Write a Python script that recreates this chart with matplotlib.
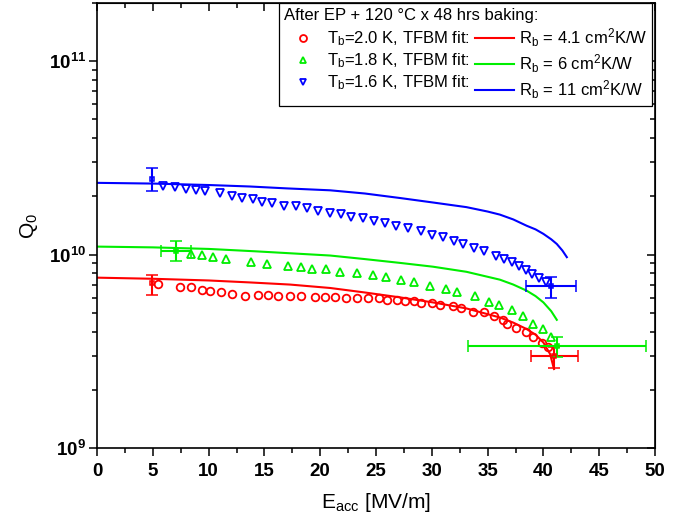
import numpy as np
import matplotlib
matplotlib.use("Agg")
import matplotlib.pyplot as plt
from matplotlib.ticker import AutoMinorLocator, LogLocator, NullFormatter
from matplotlib.lines import Line2D

plt.rcParams['font.family'] = ['Liberation Sans', 'DejaVu Sans']
plt.rcParams['mathtext.fontset'] = 'custom'
plt.rcParams['mathtext.rm'] = 'Liberation Sans'
plt.rcParams['mathtext.it'] = 'Liberation Sans:italic'
plt.rcParams['mathtext.bf'] = 'Liberation Sans:bold'

# --------------------------------------------------------------------------
# data (Q0 in units of 1e10)
# --------------------------------------------------------------------------
red_x = [5.5, 7.4, 8.4, 9.4, 10.1, 11.1, 12.1, 13.3, 14.4, 15.35, 16.25, 17.3,
         18.25, 19.5, 20.4, 21.3, 22.3, 23.3, 24.25, 25.3, 26.0, 26.9, 27.6,
         28.4, 29.0, 30.05, 30.7, 31.9, 32.6, 33.7, 34.7, 35.6, 36.35, 36.7,
         37.5, 38.4, 39.1, 39.85, 40.4]
red_q = [0.707, 0.678, 0.681, 0.659, 0.651, 0.638, 0.623, 0.613, 0.618, 0.618,
         0.613, 0.608, 0.608, 0.606, 0.606, 0.601, 0.599, 0.597, 0.597, 0.594,
         0.585, 0.585, 0.576, 0.578, 0.562, 0.562, 0.551, 0.544, 0.527, 0.507,
         0.507, 0.483, 0.46, 0.437, 0.417, 0.399, 0.377, 0.351, 0.331]

green_x = [8.4, 9.4, 10.4, 11.6, 13.8, 15.2, 17.1, 18.25, 19.3, 20.5, 21.8,
           23.3, 24.7, 25.9, 27.2, 28.4, 29.8, 31.3, 32.3, 33.9, 35.1, 36.0,
           37.2, 38.2, 39.1, 40.0, 40.7]
green_q = [1.01, 0.996, 0.973, 0.95, 0.913, 0.891, 0.877, 0.867, 0.844, 0.844,
           0.817, 0.804, 0.788, 0.769, 0.742, 0.725, 0.69, 0.664, 0.638, 0.613,
           0.571, 0.549, 0.517, 0.479, 0.44, 0.41, 0.373]

blue_x = [5.9, 7.0, 8.0, 8.9, 9.7, 11.0, 12.1, 13.0, 13.95, 14.8, 15.7, 16.8,
          17.8, 18.8, 19.8, 20.9, 21.9, 22.8, 23.8, 24.8, 25.8, 26.8, 27.9,
          29.0, 30.0, 31.0, 32.0, 32.8, 33.8, 34.7, 35.75, 36.5, 37.2, 37.8,
          38.4, 39.0, 39.6, 40.2]
blue_q = [2.27, 2.23, 2.19, 2.16, 2.12, 2.08, 2.005, 1.97, 1.93, 1.87, 1.85,
          1.79, 1.78, 1.74, 1.69, 1.64, 1.62, 1.57, 1.55, 1.50, 1.46, 1.41,
          1.365, 1.32, 1.265, 1.23, 1.17, 1.135, 1.08, 1.04, 0.989, 0.95,
          0.913, 0.877, 0.836, 0.794, 0.754, 0.725]

# points with error bars: x, q, xerr [lo, hi], qerr [lo, hi]
red_err_x = [4.9, 40.95]
red_err_q = [0.713, 0.299]
red_err_xe = [[0.0, 2.05], [0.0, 2.15]]
red_err_qe = [[0.095, 0.04], [0.075, 0.032]]

green_err_x = [7.1, 41.25]
green_err_q = [1.05, 0.335]
green_err_xe = [[1.35, 8.05], [1.35, 7.95]]
green_err_qe = [[0.127, 0.038], [0.12, 0.041]]

blue_err_x = [4.9, 40.65]
blue_err_q = [2.45, 0.685]
blue_err_xe = [[0.0, 2.25], [0.0, 2.25]]
blue_err_qe = [[0.33, 0.085], [0.36, 0.078]]

# TFBM fit curves
red_fit_x = [0, 5, 10, 13.7, 17.3, 20.9, 24, 27.15, 30.1, 33.1, 36.1, 37.3,
             38.5, 39.3, 40.0, 40.6, 40.95]
red_fit_q = [0.76, 0.75, 0.735, 0.718, 0.70, 0.672, 0.637, 0.601, 0.566,
             0.527, 0.473, 0.445, 0.412, 0.385, 0.351, 0.306, 0.256]
green_fit_x = [0, 5, 10, 14.2, 20.9, 24, 27.15, 30.1, 33.1, 36.1, 37.3, 38.5,
               39.3, 40.0, 40.7, 41.2]
green_fit_q = [1.10, 1.09, 1.07, 1.04, 0.989, 0.948, 0.906, 0.866, 0.815,
               0.742, 0.70, 0.651, 0.61, 0.566, 0.51, 0.46]
blue_fit_x = [0, 5, 10, 13.7, 17.0, 20.9, 24, 27.2, 30.1, 33.1, 35.0, 36.1,
              37.3, 38.5, 39.3, 40.0, 40.7, 41.2, 41.7, 42.1]
blue_fit_q = [2.35, 2.33, 2.29, 2.25, 2.20, 2.15, 2.07, 1.96, 1.86, 1.76,
              1.67, 1.61, 1.52, 1.41, 1.35, 1.28, 1.20, 1.135, 1.05, 0.97]

labels_pts = [r'T$_\mathrm{b}$=2.0 K, TFBM fit:',
              r'T$_\mathrm{b}$=1.8 K, TFBM fit:',
              r'T$_\mathrm{b}$=1.6 K, TFBM fit:']
labels_fit = [r'R$_\mathrm{b}$ = 4.1 cm$^\mathrm{2}$K/W',
              r'R$_\mathrm{b}$ = 6 cm$^\mathrm{2}$K/W',
              r'R$_\mathrm{b}$ = 11 cm$^\mathrm{2}$K/W']
legend_title = 'After EP + 120 °C x 48 hrs baking:'

RED, GREEN, BLUE = '#ff0000', '#00ee00', '#0000ff'
S = 1e10


def style_ticks(axis_obj, direction):
    axis_obj.tick_params(which='both', direction=direction, width=1.1)
    axis_obj.tick_params(which='major', length=6)
    axis_obj.tick_params(which='minor', length=3.5)


def main():
    fig = plt.figure(figsize=(6.88, 5.27), dpi=100)
    ax = fig.add_axes([97 / 688, 1 - 448 / 527, 558 / 688, 445 / 527])

    series = [
        (red_x, red_q, red_err_x, red_err_q, red_err_xe, red_err_qe,
         red_fit_x, red_fit_q, RED, 'o'),
        (green_x, green_q, green_err_x, green_err_q, green_err_xe, green_err_qe,
         green_fit_x, green_fit_q, GREEN, '^'),
        (blue_x, blue_q, blue_err_x, blue_err_q, blue_err_xe, blue_err_qe,
         blue_fit_x, blue_fit_q, BLUE, 'v'),
    ]

    pt_handles, fit_handles = [], []
    for (x, q, ex, eq, exe, eqe, fx, fq, col, mk) in series:
        ax.plot(fx, np.array(fq) * S, color=col, lw=1.5, zorder=2)
        ax.plot(x, np.array(q) * S, ls='none', marker=mk, ms=5.5,
                mfc='none', mec=col, mew=1.3, zorder=3)
        ax.errorbar(ex, np.array(eq) * S, yerr=np.array(eqe) * S,
                    xerr=np.array(exe), fmt='s', ms=3.5, mfc='none', mec=col,
                    mew=1.1, ecolor=col, elinewidth=1.5, capsize=4,
                    capthick=1.5, zorder=4)
        pt_handles.append(Line2D([], [], ls='none', marker=mk, ms=5,
                                 mfc='none', mec=col, mew=1.3))
        fit_handles.append(Line2D([], [], color=col, lw=1.5))

    ax.set_yscale('log')
    ax.set_xlim(0, 50)
    ax.set_ylim(1e9, 2e11)

    ax.set_xticks(np.arange(0, 51, 5))
    ax.set_xticklabels([str(v) for v in range(0, 51, 5)], fontweight='bold')
    ax.xaxis.set_minor_locator(AutoMinorLocator(2))
    ax.set_yticks([1e9, 1e10, 1e11])
    ax.set_yticklabels([r'$\mathbf{10^{9}}$', r'$\mathbf{10^{10}}$',
                        r'$\mathbf{10^{11}}$'])
    ax.yaxis.set_minor_locator(LogLocator(base=10, subs=np.arange(2, 10)))
    ax.yaxis.set_minor_formatter(NullFormatter())

    style_ticks(ax, 'out')
    ax.tick_params(labelsize=13.5)
    ax.tick_params(axis='x', pad=5)
    ax.tick_params(axis='y', pad=2)
    for sp in ax.spines.values():
        sp.set_linewidth(1.2)

    # mirrored axes with inward ticks on top and right
    top = ax.secondary_xaxis('top')
    top.set_xticks(np.arange(0, 51, 5))
    top.xaxis.set_minor_locator(AutoMinorLocator(2))
    style_ticks(top, 'in')
    top.tick_params(labeltop=False)
    right = ax.secondary_yaxis('right')
    right.set_yticks([1e9, 1e10, 1e11])
    right.yaxis.set_minor_locator(LogLocator(base=10, subs=np.arange(2, 10)))
    right.yaxis.set_minor_formatter(NullFormatter())
    style_ticks(right, 'in')
    right.tick_params(labelright=False)

    ax.set_xlabel(r'E$_\mathrm{acc}$ [MV/m]', fontsize=15, labelpad=8)
    ax.set_ylabel(r'Q$_\mathrm{0}$', fontsize=15, labelpad=6)

    leg = ax.legend(pt_handles + fit_handles, labels_pts + labels_fit,
                    ncol=2, loc='upper right',
                    bbox_to_anchor=(1 - 3 / 558, 1.0), borderaxespad=0.0,
                    title=legend_title, title_fontsize=12, fontsize=12,
                    alignment='left', frameon=True, fancybox=False,
                    framealpha=1, edgecolor='black', handlelength=2.3,
                    handletextpad=0.3, columnspacing=0.3, labelspacing=0.2,
                    borderpad=0.3)
    leg.get_frame().set_linewidth(0.9)

    fig.savefig('out.png', dpi=100)
    plt.close(fig)


if __name__ == '__main__':
    main()
